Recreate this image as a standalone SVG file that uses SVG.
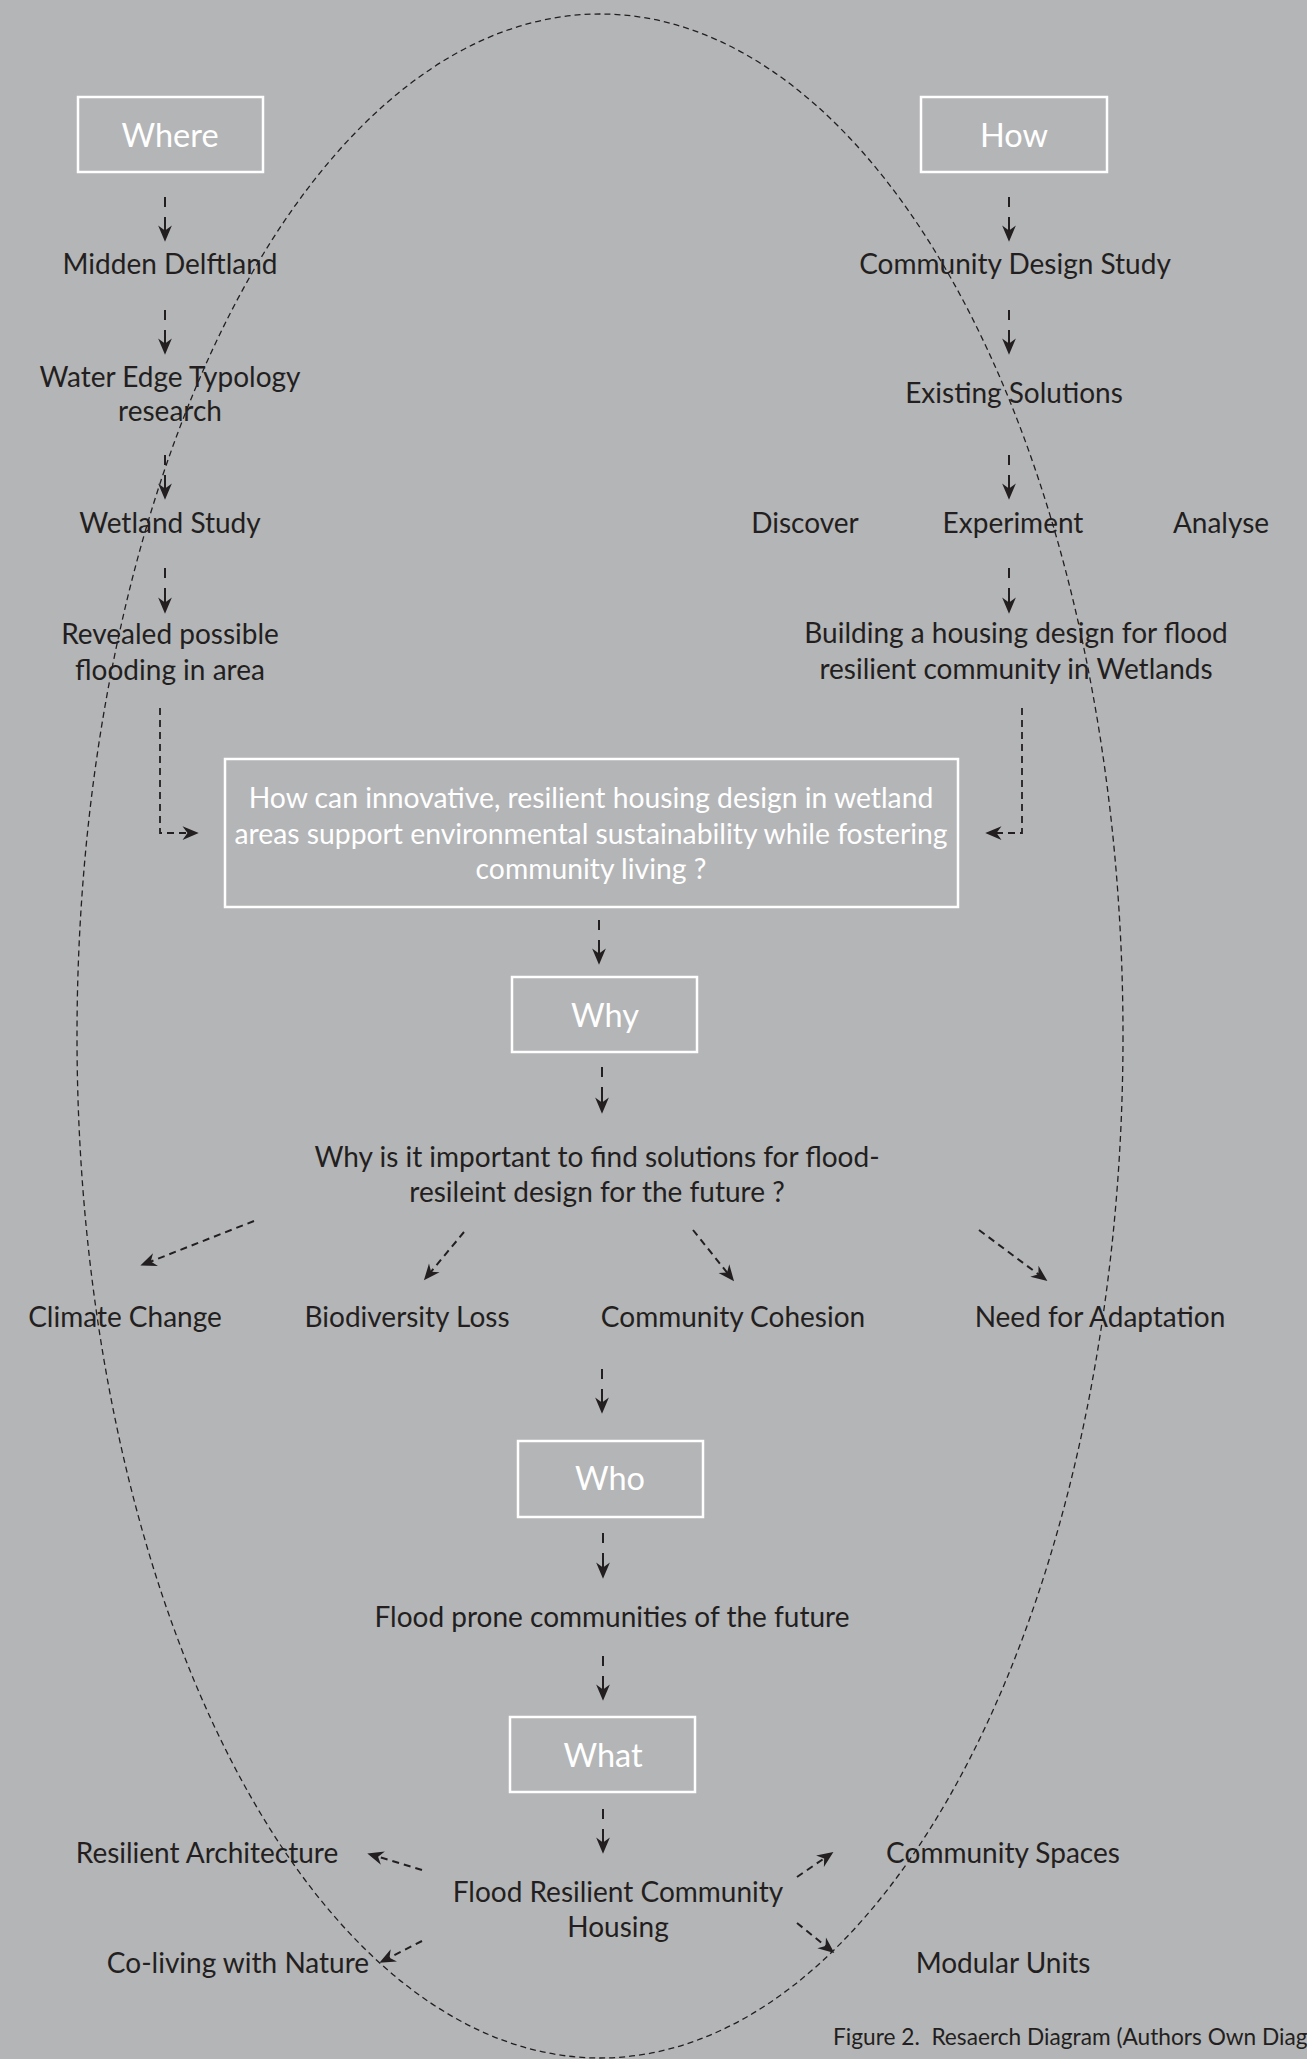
<svg xmlns="http://www.w3.org/2000/svg" width="1307" height="2059" viewBox="0 0 1307 2059">
  <defs>
    <marker id="head" markerUnits="userSpaceOnUse" markerWidth="20" markerHeight="20" viewBox="-8 -8 16 16" refX="0" refY="0" orient="auto">
      <path d="M7,0 L-6,-5.5 L-2,0 L-6,5.5 Z" fill="#231f20"/>
    </marker>
    <style>
      text { font-family: "Lato", "Open Sans", "Liberation Sans", sans-serif; }
      .lbl { font-size: 28px; fill: #231f20; text-anchor: middle; }
      .key { font-size: 32.5px; fill: #ffffff; text-anchor: middle; }
      .q { font-size: 28.3px; fill: #ffffff; text-anchor: middle; }
      .box { fill: none; stroke: #ffffff; stroke-width: 2.5; }
      .down { stroke: #231f20; stroke-width: 2; fill: none; stroke-dasharray: 10 10 40; marker-end: url(#head); }
      .slant { stroke: #231f20; stroke-width: 2; fill: none; stroke-dasharray: 7 5; marker-end: url(#head); }
      .elbow { stroke: #231f20; stroke-width: 1.8; fill: none; stroke-dasharray: 7 5; marker-end: url(#head); }
      .cap { font-size: 22.7px; fill: #231f20; }
    </style>
  </defs>

  <rect x="0" y="0" width="1307" height="2059" fill="#b4b5b7"/>

  <!-- dashed boundary ellipse -->
  <ellipse id="boundary" cx="600" cy="1036" rx="523" ry="1022" fill="none" stroke="#231f20" stroke-width="1.3" stroke-dasharray="6 4"/>

  <!-- connectors -->
  <g id="connectors">
    <line class="down" x1="165" y1="197" x2="165" y2="233"/>
    <line class="down" x1="165" y1="310" x2="165" y2="346"/>
    <line class="down" x1="165" y1="455" x2="165" y2="491"/>
    <line class="down" x1="165" y1="568" x2="165" y2="605"/>
    <line class="down" x1="1009" y1="197" x2="1009" y2="233"/>
    <line class="down" x1="1009" y1="310" x2="1009" y2="346"/>
    <line class="down" x1="1009" y1="455" x2="1009" y2="491"/>
    <line class="down" x1="1009" y1="568" x2="1009" y2="605"/>
    <path class="elbow" d="M160,708 V833 H190"/>
    <path class="elbow" d="M1022,708 V833 H994"/>
    <line class="down" x1="599" y1="920" x2="599" y2="956"/>
    <line class="down" x1="602" y1="1067" x2="602" y2="1105"/>
    <line class="slant" x1="254" y1="1221" x2="148.5" y2="1262.4"/>
    <line class="slant" x1="464" y1="1232" x2="429.5" y2="1273.6"/>
    <line class="slant" x1="693" y1="1230" x2="728.6" y2="1274.5"/>
    <line class="slant" x1="979" y1="1230" x2="1040.4" y2="1275.8"/>
    <line class="down" x1="602" y1="1369" x2="602" y2="1405"/>
    <line class="down" x1="603" y1="1533" x2="603" y2="1570"/>
    <line class="down" x1="603" y1="1656" x2="603" y2="1692"/>
    <line class="down" x1="603" y1="1809" x2="603" y2="1845"/>
    <line class="slant" x1="422" y1="1870" x2="375.7" y2="1856"/>
    <line class="slant" x1="422" y1="1941" x2="387.2" y2="1958.8"/>
    <line class="slant" x1="797" y1="1877" x2="826.2" y2="1857"/>
    <line class="slant" x1="797" y1="1923" x2="827.5" y2="1947.6"/>
  </g>

  <!-- Where column -->
  <g id="where">
    <rect class="box" x="78" y="97" width="185" height="75"/>
    <text class="key" x="170" y="147">Where</text>
  </g>
  <g id="midden-delftland"><text class="lbl" x="170" y="274">Midden Delftland</text></g>
  <g id="water-edge"><text class="lbl" x="170" y="387">Water Edge Typology</text><text class="lbl" x="170" y="421">research</text></g>
  <g id="wetland-study"><text class="lbl" x="170" y="533">Wetland Study</text></g>
  <g id="revealed-flooding"><text class="lbl" x="170" y="644">Revealed possible</text><text class="lbl" x="170" y="680">flooding in area</text></g>

  <!-- How column -->
  <g id="how">
    <rect class="box" x="921" y="97" width="186" height="75"/>
    <text class="key" x="1014" y="147">How</text>
  </g>
  <g id="community-design-study"><text class="lbl" x="1015" y="274">Community Design Study</text></g>
  <g id="existing-solutions"><text class="lbl" x="1014" y="403">Existing Solutions</text></g>
  <g id="discover"><text class="lbl" x="805" y="533">Discover</text></g>
  <g id="experiment"><text class="lbl" x="1013" y="533">Experiment</text></g>
  <g id="analyse"><text class="lbl" x="1221" y="533">Analyse</text></g>
  <g id="building-design"><text class="lbl" x="1016" y="643">Building a housing design for flood</text><text class="lbl" x="1016" y="679">resilient community in Wetlands</text></g>

  <!-- research question -->
  <g id="question">
    <rect class="box" x="225" y="759" width="733" height="148"/>
    <text class="q" x="591" y="808">How can innovative, resilient housing design in wetland</text>
    <text class="q" x="591" y="844">areas support environmental sustainability while fostering</text>
    <text class="q" x="591" y="879">community living ?</text>
  </g>

  <!-- Why -->
  <g id="why">
    <rect class="box" x="512" y="977" width="185" height="75"/>
    <text class="key" x="605" y="1027">Why</text>
  </g>
  <g id="why-question"><text class="lbl" x="597" y="1167">Why is it important to find solutions for flood-</text><text class="lbl" x="597" y="1202">resileint design for the future ?</text></g>
  <g id="climate-change"><text class="lbl" x="125" y="1327">Climate Change</text></g>
  <g id="biodiversity-loss"><text class="lbl" x="407" y="1327">Biodiversity Loss</text></g>
  <g id="community-cohesion"><text class="lbl" x="733" y="1327">Community Cohesion</text></g>
  <g id="need-for-adaptation"><text class="lbl" x="1100" y="1327">Need for Adaptation</text></g>

  <!-- Who -->
  <g id="who">
    <rect class="box" x="518" y="1441" width="185" height="76"/>
    <text class="key" x="610" y="1490">Who</text>
  </g>
  <g id="flood-prone"><text class="lbl" x="612" y="1627">Flood prone communities of the future</text></g>

  <!-- What -->
  <g id="what">
    <rect class="box" x="510" y="1717" width="185" height="75"/>
    <text class="key" x="603" y="1767">What</text>
  </g>
  <g id="flood-resilient-housing"><text class="lbl" x="618" y="1902">Flood Resilient Community</text><text class="lbl" x="618" y="1937">Housing</text></g>
  <g id="resilient-architecture"><text class="lbl" x="207" y="1863">Resilient Architecture</text></g>
  <g id="co-living"><text class="lbl" x="238" y="1973">Co-living with Nature</text></g>
  <g id="community-spaces"><text class="lbl" x="1003" y="1863">Community Spaces</text></g>
  <g id="modular-units"><text class="lbl" x="1003" y="1973">Modular Units</text></g>

  <text class="cap" x="833" y="2045" xml:space="preserve">Figure 2.  Resaerch Diagram (Authors Own Diag</text>
</svg>
